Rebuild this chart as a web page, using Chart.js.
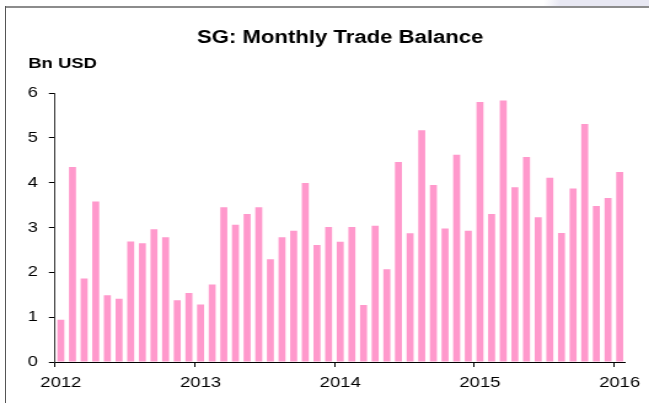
<!DOCTYPE html>
<html>
<head>
<meta charset="utf-8">
<script src="https://cdn.jsdelivr.net/npm/chart.js@4/dist/chart.umd.min.js"></script>
<style>
  html, body { margin: 0; padding: 0; background: #fff; overflow: hidden; }
  body { width: 649px; height: 403px; position: relative; }
  #patch { position: absolute; left: 530px; top: 0; width: 119px; height: 6px;
           background: linear-gradient(100deg, #ffffff 0px, #ffffff 14px, #e8e8f3 30px, #e8e8f3 100%); }
  #topline { position: absolute; left: 5px; top: 6px; width: 644px; height: 2px; background: #8c8c8c; }
  #leftline { position: absolute; left: 5px; top: 6px; width: 1px; height: 397px; background: #555; }
  #wrap { position: absolute; left: 0; top: 0; width: 528px; height: 403px;
          transform: scaleX(1.2292); transform-origin: 0 0; }
</style>
</head>
<body>
<div id="patch"></div>
<div id="topline"></div>
<div id="leftline"></div>
<div id="wrap"><canvas id="c"></canvas></div>
<script>
const title = 'SG: Monthly Trade Balance';
const unitLabel = 'Bn USD';
const tickLabels = ['2012', '2013', '2014', '2015', '2016'];
const months = [
  'Jan 2012','Feb 2012','Mar 2012','Apr 2012','May 2012','Jun 2012','Jul 2012','Aug 2012','Sep 2012','Oct 2012','Nov 2012','Dec 2012',
  'Jan 2013','Feb 2013','Mar 2013','Apr 2013','May 2013','Jun 2013','Jul 2013','Aug 2013','Sep 2013','Oct 2013','Nov 2013','Dec 2013',
  'Jan 2014','Feb 2014','Mar 2014','Apr 2014','May 2014','Jun 2014','Jul 2014','Aug 2014','Sep 2014','Oct 2014','Nov 2014','Dec 2014',
  'Jan 2015','Feb 2015','Mar 2015','Apr 2015','May 2015','Jun 2015','Jul 2015','Aug 2015','Sep 2015','Oct 2015','Nov 2015','Dec 2015',
  'Jan 2016'
];
const balance = [
  0.94, 4.35, 1.86, 3.58, 1.49, 1.41, 2.69, 2.65, 2.96, 2.78, 1.38, 1.54,
  1.28, 1.73, 3.45, 3.06, 3.30, 3.45, 2.29, 2.78, 2.93, 3.99, 2.61, 3.01,
  2.68, 3.01, 1.27, 3.04, 2.07, 4.46, 2.87, 5.17, 3.95, 2.98, 4.62, 2.93,
  5.80, 3.30, 5.83, 3.90, 4.57, 3.23, 4.11, 2.88, 3.87, 5.31, 3.48, 3.66,
  4.24
];

const FONT = '"Liberation Sans", Arial, Helvetica, sans-serif';
Chart.defaults.color = '#000';
Chart.defaults.font.family = FONT;

const unitPlugin = {
  id: 'unitLabel',
  afterDraw(chart) {
    const ctx = chart.ctx;
    ctx.save();
    ctx.font = 'bold 15px ' + FONT;
    ctx.fillStyle = '#000';
    ctx.textAlign = 'left';
    ctx.textBaseline = 'middle';
    ctx.fillText(unitLabel, 23, 64);
    ctx.restore();
  }
};

new Chart(document.getElementById('c'), {
  type: 'bar',
  data: {
    labels: months,
    datasets: [{
      data: balance,
      backgroundColor: '#ff99cc',
      borderWidth: 0,
      barPercentage: 0.6,
      categoryPercentage: 1.0
    }]
  },
  options: {
    responsive: true,
    maintainAspectRatio: false,
    animation: false,
    layout: { padding: { left: 0, right: 18.6, top: 0, bottom: 0 } },
    plugins: {
      legend: { display: false },
      tooltip: { enabled: false },
      title: {
        display: true,
        text: title,
        fullSize: false,
        color: '#000',
        font: { size: 18, weight: 'bold', family: FONT },
        padding: { top: 27.5, bottom: 43.9 }
      }
    },
    scales: {
      x: {
        type: 'category',
        offset: true,
        afterFit(scale) { scale.height = 41; },
        grid: {
          offset: true,
          drawOnChartArea: false,
          drawTicks: true,
          tickLength: 5,
          tickWidth: 1,
          tickColor: (c) => (c.index % 12 === 0 && c.index < months.length) ? '#000' : 'rgba(0,0,0,0)'
        },
        border: { display: true, color: '#000', width: 1 },
        ticks: {
          autoSkip: false,
          maxRotation: 0,
          minRotation: 0,
          padding: 7,
          color: '#000',
          font: { size: 15, family: FONT },
          callback: (v, i) => (i % 12 === 0 ? tickLabels[i / 12] : '')
        }
      },
      y: {
        min: 0,
        max: 6,
        afterFit(scale) { scale.width = 44.75; },
        grid: {
          drawOnChartArea: false,
          drawTicks: true,
          tickLength: 5,
          tickColor: '#000'
        },
        border: { display: true, color: '#333', width: 1 },
        ticks: {
          stepSize: 1,
          padding: 9,
          color: '#000',
          font: { size: 15, family: FONT }
        }
      }
    }
  },
  plugins: [unitPlugin]
});
</script>
</body>
</html>
